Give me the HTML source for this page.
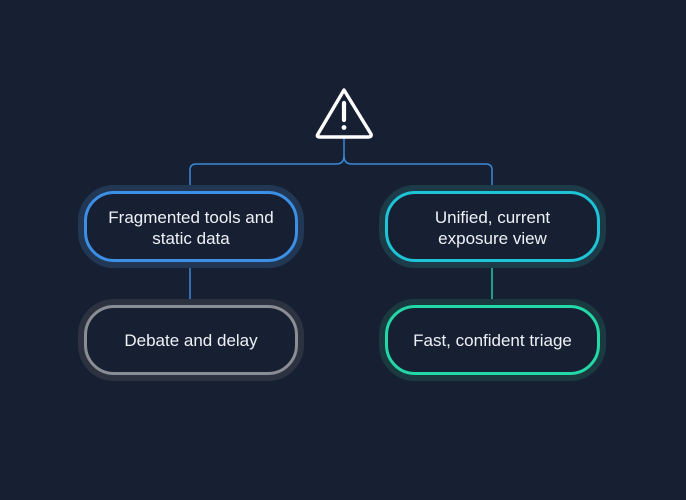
<!DOCTYPE html>
<html><head><style>
html,body{margin:0;padding:0;background:#172033;}
body{width:686px;height:500px;position:relative;overflow:hidden;font-family:"Liberation Sans",sans-serif;}
.b{position:absolute;box-sizing:border-box;border-radius:30px;border:3px solid;display:flex;align-items:center;justify-content:center;text-align:center;color:#eef2f6;font-size:17px;line-height:21px;background:#172033;}
</style></head><body>
<svg width="686" height="500" style="position:absolute;left:0;top:0">
<g fill="none" stroke-width="1.5">
<path d="M344 138 V156 Q344 164 336 164 H196 Q190 164 190 170 V192" stroke="#3a88d8"/>
<path d="M344 156 Q344 164 352 164 H486 Q492 164 492 170 V192" stroke="#3a88d8"/>
<path d="M190 262 V305" stroke="#3a88d8"/>
<path d="M492 262 V305" stroke="#22c9a6"/>
</g>
<path d="M344 90 L371 134 Q372 137 368 137 L320 137 Q316 137 318 134 Z" fill="none" stroke="#fff" stroke-width="3.4" stroke-linejoin="round"/>
<path d="M344 103 V120" stroke="#fff" stroke-width="4.2" stroke-linecap="round"/>
<circle cx="344" cy="127.5" r="2.4" fill="#fff"/>
</svg>
<div class="b" style="left:78px;top:185px;width:226px;height:83px;border:6px solid #223753;border-radius:36px;background:none"></div>
<div class="b" style="left:379px;top:185px;width:227px;height:83px;border:6px solid #1c3a47;border-radius:36px;background:none"></div>
<div class="b" style="left:78px;top:299px;width:226px;height:82px;border:6px solid #2c3240;border-radius:36px;background:none"></div>
<div class="b" style="left:379px;top:299px;width:227px;height:82px;border:6px solid #1a3a40;border-radius:36px;background:none"></div>
<div class="b" style="left:84px;top:191px;width:214px;height:71px;border-color:#3b8fe4;padding-top:2px">Fragmented tools and<br>static data</div>
<div class="b" style="left:385px;top:191px;width:215px;height:71px;border-color:#1ec3d6;padding-top:2px">Unified, current<br>exposure view</div>
<div class="b" style="left:84px;top:305px;width:214px;height:70px;border-color:#8a8d93">Debate and delay</div>
<div class="b" style="left:385px;top:305px;width:215px;height:70px;border-color:#22d8a6">Fast, confident triage</div>
</body></html>
